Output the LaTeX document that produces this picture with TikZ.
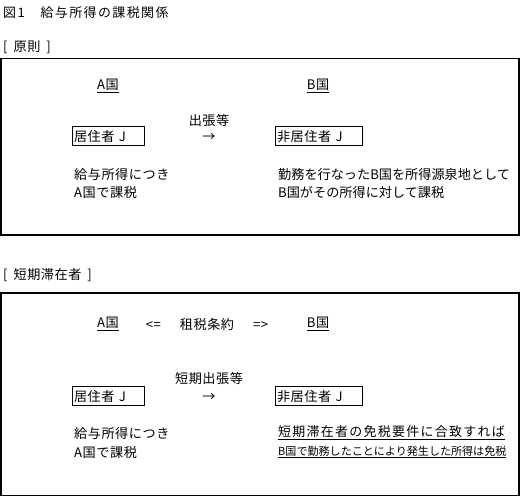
\documentclass[tikz,border=0pt]{standalone}
\usepackage{fontspec}
\setmainfont{Noto Sans CJK JP}
\newfontfamily\titlefont[LetterSpace=11]{Noto Sans CJK JP}
\newfontfamily\bodyfont[LetterSpace=4]{Noto Sans CJK JP}
\newfontfamily\wideface[LetterSpace=10]{Noto Sans CJK JP}
\begin{document}
\begin{tikzpicture}[x=1bp,y=-1bp,
  txt/.style={inner sep=0pt,font=\bodyfont\fontsize{13.2}{19}\selectfont},
  plain/.style={inner sep=0pt,font=\fontsize{13.2}{19}\selectfont},
  frame/.style={draw,line width=1.3bp},
  person/.style={draw,line width=0.9bp,inner sep=0pt,minimum height=19bp,
     font=\bodyfont\fontsize{13.2}{15}\selectfont,align=left,text depth=0pt}]
\useasboundingbox (0,0) rectangle (522,497);
% title
\node[txt,anchor=west,font=\titlefont\fontsize{13}{15}\selectfont] (title) at (3,13) {図1　給与所得の課税関係};
% ---- section 1
\node[txt,anchor=west] (sec1) at (3,47) {[\hspace{6bp}原則\hspace{6bp}]};
\draw[frame] (1,58.5) rectangle (519,235);
\node[txt] (a1) at (108,86) {\underline{A国}};
\node[txt] (b1) at (318,86) {\underline{B国}};
\node[txt] (trip1) at (209,120) {出張等};
\node[person,minimum width=72bp,text width=68bp] (r1) at (108,135.5) {居住者 J};
\node[txt] (arr1) at (209,137) {→};
\node[person,minimum width=87bp,text width=83bp] (n1) at (318.5,135.5) {非居住者 J};
\node[txt,anchor=west,align=left] (l1) at (74,183.5) {給与所得につき\\A国で課税};
\node[plain,anchor=west,align=left] (rt1) at (278,183.5) {勤務を行なったB国を所得源泉地として\\B国がその所得に対して課税};
% ---- section 2
\node[txt,anchor=west] (sec2) at (3,275) {[\hspace{6bp}短期滞在者\hspace{6bp}]};
\draw[frame] (1,293) rectangle (519,495.5);
\node[txt] (a2) at (108,324) {\underline{A国}};
\node[txt] (treaty) at (207,324) {<=\hspace{19bp}租税条約\hspace{19bp}=>};
\node[txt] (b2) at (318,324) {\underline{B国}};
\node[txt] (trip2) at (209,378) {短期出張等};
\node[person,minimum width=72bp,text width=68bp] (r2) at (108,395.5) {居住者 J};
\node[txt] (arr2) at (209,397) {→};
\node[person,minimum width=87bp,text width=83bp] (n2) at (318.5,395.5) {非居住者 J};
\node[txt,anchor=west,align=left] (l2) at (74,443) {給与所得につき\\A国で課税};
\node[txt,anchor=west,font=\wideface\fontsize{13}{15}\selectfont] (rt2a) at (278,433) {\underline{短期滞在者の免税要件に合致すれば}};
\node[txt,anchor=west,font=\fontsize{11.1}{12}\selectfont] (rt2b) at (278,452) {\underline{B国で勤務したことにより発生した所得は免税}};
\end{tikzpicture}
\end{document}
